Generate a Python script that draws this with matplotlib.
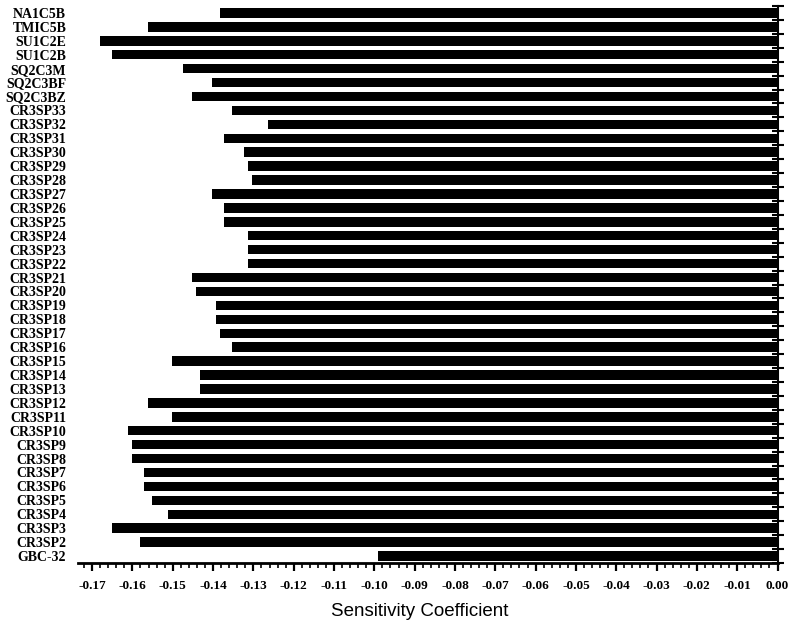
import matplotlib
matplotlib.use("Agg")
import matplotlib.pyplot as plt
import numpy as np
from matplotlib.ticker import MultipleLocator, FixedLocator

labels = ["NA1C5B", "TMIC5B", "SU1C2E", "SU1C2B", "SQ2C3M", "SQ2C3BF", "SQ2C3BZ",
          "CR3SP33", "CR3SP32", "CR3SP31", "CR3SP30", "CR3SP29", "CR3SP28", "CR3SP27",
          "CR3SP26", "CR3SP25", "CR3SP24", "CR3SP23", "CR3SP22", "CR3SP21", "CR3SP20",
          "CR3SP19", "CR3SP18", "CR3SP17", "CR3SP16", "CR3SP15", "CR3SP14", "CR3SP13",
          "CR3SP12", "CR3SP11", "CR3SP10", "CR3SP9", "CR3SP8", "CR3SP7", "CR3SP6",
          "CR3SP5", "CR3SP4", "CR3SP3", "CR3SP2", "GBC-32"]
values = [-0.1382, -0.1561, -0.1680, -0.1651, -0.1474, -0.1402, -0.1452,
          -0.1353, -0.1263, -0.1372, -0.1323, -0.1313, -0.1303, -0.1402,
          -0.1372, -0.1372, -0.1313, -0.1313, -0.1313, -0.1452, -0.1442,
          -0.1392, -0.1392, -0.1382, -0.1353, -0.1501, -0.1432, -0.1432,
          -0.1561, -0.1501, -0.1611, -0.1601, -0.1601, -0.1571, -0.1571,
          -0.1551, -0.1512, -0.1651, -0.1581, -0.0991]
xticks = [-0.17, -0.16, -0.15, -0.14, -0.13, -0.12, -0.11, -0.10, -0.09,
          -0.08, -0.07, -0.06, -0.05, -0.04, -0.03, -0.02, -0.01, 0.00]

fig = plt.figure(figsize=(7.94, 6.42), dpi=100)
ax = fig.add_axes([78/794, 1-563/642, (777.5-78)/794, (563-6)/642])

n = len(labels)
ypos = np.arange(n)
ax.barh(ypos, values, height=0.68, color="black", edgecolor="none")

ax.set_ylim(n - 0.5, -0.5)
ax.set_xlim(-0.1735, 0.0)

serif = ["Liberation Serif", "DejaVu Serif"]
ax.set_yticks(ypos)
ax.set_yticklabels(labels, fontfamily=serif, fontweight="bold", fontsize=10)
ax.yaxis.set_minor_locator(FixedLocator(np.arange(n + 1) - 0.5))
ax.tick_params(axis="y", which="major", left=False, right=False, pad=5)
ax.tick_params(axis="y", which="minor", left=False, right=True,
               direction="inout", length=8, width=1.5)

ax.set_xticks(xticks)
ax.set_xticklabels([f"{t:.2f}".replace("-0.00", "0.00") for t in xticks],
                   fontfamily=serif, fontweight="bold", fontsize=9.5)
ax.xaxis.set_minor_locator(MultipleLocator(0.002))
ax.tick_params(axis="x", which="major", direction="out", length=6, width=1.6, pad=6)
ax.tick_params(axis="x", which="minor", direction="out", length=3.5, width=1.2)

for s in ["left", "top"]:
    ax.spines[s].set_visible(False)
ax.spines["bottom"].set_linewidth(2)
ax.spines["right"].set_linewidth(1.5)

fig.text(420/794, 1-612/642, "Sensitivity Coefficient", ha="center", va="center",
         fontfamily=["Liberation Sans", "DejaVu Sans"], fontsize=13.5)

fig.savefig("out.png", dpi=100, facecolor="white")
